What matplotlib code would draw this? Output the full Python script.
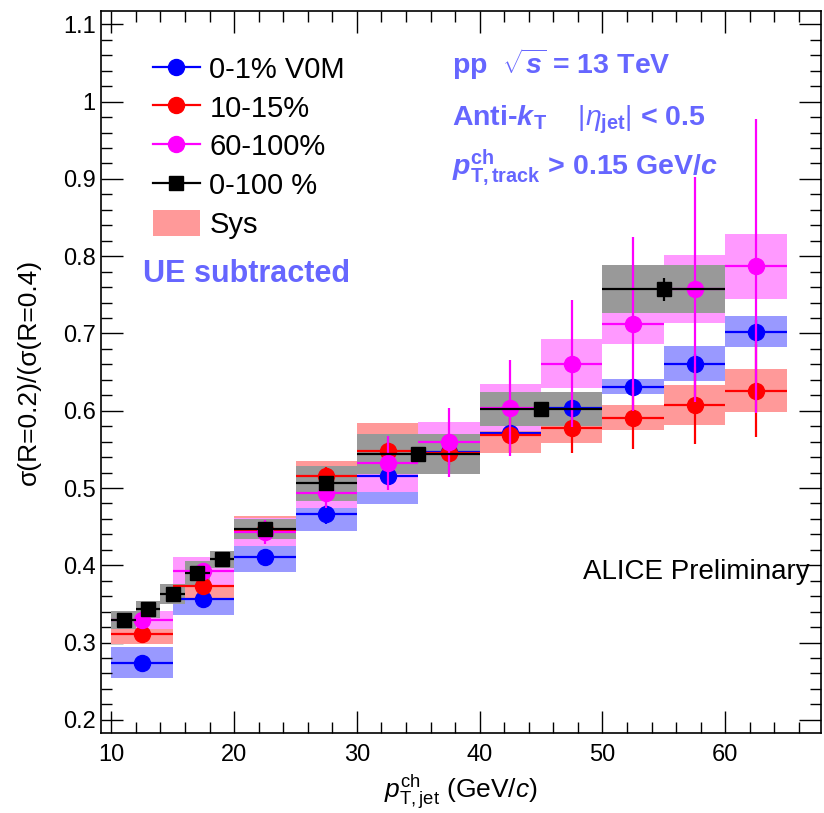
import matplotlib
matplotlib.use("Agg")
import matplotlib.pyplot as plt
from matplotlib.lines import Line2D
from matplotlib.patches import Patch
from matplotlib.ticker import MultipleLocator, FuncFormatter
import numpy as np

plt.rcParams['font.family'] = ['Liberation Sans', 'DejaVu Sans']
plt.rcParams['mathtext.fontset'] = 'custom'
plt.rcParams['mathtext.rm'] = 'Liberation Sans'
plt.rcParams['mathtext.it'] = 'Liberation Sans:italic'
plt.rcParams['mathtext.bf'] = 'Liberation Sans:bold'
plt.rcParams['mathtext.bfit'] = 'Liberation Sans:italic:bold'

# multiplicity classes, bins 10-65 in steps of 5
edges = [10, 15, 20, 25, 30, 35, 40, 45, 50, 55, 60, 65]

v0m_y    = [0.274, 0.356, 0.411, 0.466, 0.516, 0.546, 0.571, 0.603, 0.631, 0.661, 0.702]
v0m_stat = [0.004, 0.005, 0.005, 0.012, 0.010, 0.010, 0.008, 0.010, 0.008, 0.012, 0.015]
v0m_sys  = [0.020, 0.020, 0.020, 0.022, 0.037, 0.020, 0.020, 0.015, 0.010, 0.023, 0.020]

m1015_y    = [0.311, 0.373, 0.446, 0.515, 0.548, 0.545, 0.568, 0.578, 0.591, 0.607, 0.626]
m1015_stat = [0.004, 0.006, 0.008, 0.012, 0.012, 0.015, 0.023, 0.033, 0.040, 0.050, 0.060]
m1015_sys  = [0.013, 0.017, 0.018, 0.020, 0.036, 0.025, 0.023, 0.020, 0.016, 0.026, 0.028]

m60100_y    = [0.329, 0.393, 0.443, 0.494, 0.532, 0.559, 0.604, 0.661, 0.712, 0.757, 0.787]
m60100_stat = [0.005, 0.008, 0.016, 0.020, 0.035, 0.045, 0.062, 0.082, 0.113, 0.146, 0.190]
m60100_sys  = [0.012, 0.018, 0.018, 0.020, 0.037, 0.027, 0.030, 0.032, 0.026, 0.044, 0.042]

# minimum bias, finer binning
mb_edges = [10, 12, 14, 16, 18, 20, 25, 30, 40, 50, 60]
mb_y    = [0.329, 0.343, 0.363, 0.390, 0.408, 0.447, 0.506, 0.544, 0.602, 0.757]
mb_stat = [0.002, 0.002, 0.003, 0.003, 0.003, 0.004, 0.005, 0.007, 0.006, 0.015]
mb_sys  = [0.012, 0.011, 0.013, 0.015, 0.011, 0.013, 0.023, 0.026, 0.022, 0.031]

W, H = 824, 813
fig = plt.figure(figsize=(W / 100, H / 100), dpi=100)
ax = fig.add_axes([100.7 / W, 1 - 733 / H, (821 - 100.7) / W, (733 - 10.7) / H])


def draw_sys(e, y, s, col, z):
    e = np.array(e, dtype=float)
    y = np.array(y)
    s = np.array(s)
    ax.bar(e[:-1], 2 * s, bottom=y - s, width=np.diff(e), align='edge',
           color=col, linewidth=0, zorder=z)


def draw_pts(e, y, st, col, mk, ms, z):
    e = np.array(e, dtype=float)
    xc = 0.5 * (e[:-1] + e[1:])
    xe = 0.5 * np.diff(e)
    ax.errorbar(xc, y, xerr=xe, yerr=st, fmt=mk, color=col, ms=ms,
                elinewidth=1.6, capsize=0, zorder=z)


draw_sys(edges, v0m_y, v0m_sys, '#9999ff', 1)
draw_sys(edges, m1015_y, m1015_sys, '#ff9999', 2)
draw_sys(edges, m60100_y, m60100_sys, '#ff99ff', 3)
draw_sys(mb_edges, mb_y, mb_sys, '#999999', 4)

draw_pts(edges, v0m_y, v0m_stat, '#0000ff', 'o', 11.5, 5)
draw_pts(edges, m1015_y, m1015_stat, '#ff0000', 'o', 11.5, 6)
draw_pts(edges, m60100_y, m60100_stat, '#ff00ff', 'o', 11.5, 7)
draw_pts(mb_edges, mb_y, mb_stat, 'black', 's', 9.5, 8)

ax.set_xlim(9.13, 67.8)
ax.set_ylim(0.183, 1.1176)
ax.xaxis.set_major_locator(MultipleLocator(10))
ax.xaxis.set_minor_locator(MultipleLocator(2))
ax.yaxis.set_major_locator(MultipleLocator(0.1))
ax.yaxis.set_minor_locator(MultipleLocator(0.02))
ax.yaxis.set_major_formatter(FuncFormatter(lambda v, p: '%g' % round(v, 2)))
ax.tick_params(which='both', direction='in', top=True, right=True, width=1,
               labelsize=17)
ax.tick_params(which='major', length=16)
ax.tick_params(which='minor', length=8)
ax.tick_params(axis='x', pad=8)
for sp in ax.spines.values():
    sp.set_linewidth(1.2)

ax.set_xlabel(r'$p^{\rm ch}_{\rm T,jet}$ (GeV/$c$)', fontsize=19)
ax.set_ylabel('σ(R=0.2)/(σ(R=0.4)', fontsize=19)
ax.xaxis.set_label_coords(0.5, -0.055)
ax.yaxis.set_label_coords(-0.083, 0.5)

handles = [
    Line2D([], [], color='#0000ff', marker='o', ms=11.5, lw=1.6),
    Line2D([], [], color='#ff0000', marker='o', ms=11.5, lw=1.6),
    Line2D([], [], color='#ff00ff', marker='o', ms=11.5, lw=1.6),
    Line2D([], [], color='black', marker='s', ms=9.5, lw=1.6),
    Patch(facecolor='#ff9999', edgecolor='none'),
]
labels = ['0-1% V0M', '10-15%', '60-100%', '0-100 %', 'Sys']
fig.legend(handles, labels, loc='upper left',
           bbox_to_anchor=(153 / W, 1 - 55 / H), bbox_transform=fig.transFigure,
           frameon=False, fontsize=21, handlelength=1.6, handleheight=1.0,
           handletextpad=0.33, labelspacing=0.33, borderpad=0, borderaxespad=0)

tc = '#6666ff'


def ftext(x, y, s, **kw):
    fig.text(x / W, 1 - y / H, s, va='baseline', **kw)


ftext(452, 74, r'pp  $\sqrt{\mathbfit{s}}$ = 13 TeV', color=tc, fontsize=20.5, fontweight='bold')
ftext(452, 125, r'Anti-$\mathbfit{k}_{\mathbf{T}}$    $|\eta_{\mathbf{jet}}|$ < 0.5',
      color=tc, fontsize=20.5, fontweight='bold')
ftext(452, 174, r'$\mathbfit{p}^{\mathbf{ch}}_{\mathbf{T,track}}$ > 0.15 GeV/$\mathbfit{c}$',
      color=tc, fontsize=20.5, fontweight='bold')
ftext(143, 282, 'UE subtracted', color=tc, fontsize=22, fontweight='bold')
ftext(583, 579, 'ALICE Preliminary', color='black', fontsize=20)

fig.savefig('out.png', dpi=100)
